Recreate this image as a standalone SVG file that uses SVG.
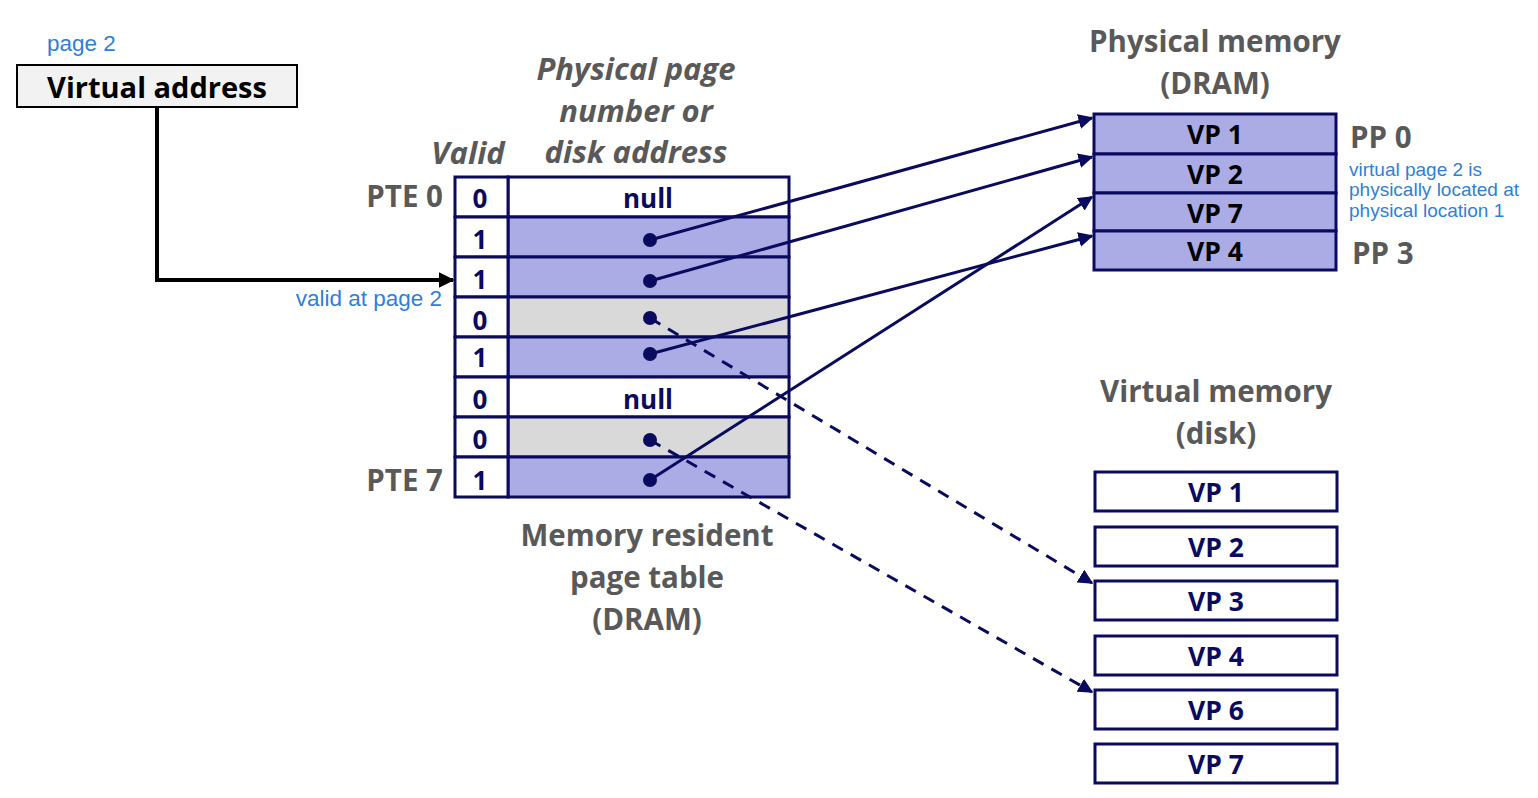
<svg xmlns="http://www.w3.org/2000/svg" width="1538" height="798" viewBox="0 0 1538 798">
  <defs>
    <style>
      text { font-family: "Open Sans", "Noto Sans", "Liberation Sans", sans-serif; font-weight: bold; }
      .lbl { fill: #595959; font-size: 29.5px; text-anchor: middle; }
      .ital { font-style: italic; font-size: 31px; }
      .start { text-anchor: start; }
      .end { text-anchor: end; }
      .note { fill: #2f7fd6; font-weight: normal; font-family: "Liberation Sans", Arial, sans-serif; font-size: 22.5px; }
      .small { font-size: 19px; }
      .cell { stroke: #0a0a5e; stroke-width: 3; }
      .val { fill: #0a0a5e; font-size: 26px; text-anchor: middle; }
      .pm { fill: #000; font-size: 26.5px; text-anchor: middle; }
      .dm { fill: #0a0a5e; font-size: 26.5px; text-anchor: middle; }
      .purple { fill: #abace5; }
      .gray { fill: #d9d9d9; }
      .white { fill: #ffffff; }
      .link { stroke: #0a0a5e; stroke-width: 3; fill: none; }
      .dash { stroke-dasharray: 12 9; }
      .dot { fill: #0a0a5e; }
    </style>
    <marker id="ahNavy" viewBox="0 0 10 10" refX="9" refY="5" markerWidth="5" markerHeight="5" orient="auto" markerUnits="strokeWidth">
      <path d="M0,0 L10,5 L0,10 z" fill="#0a0a5e"/>
    </marker>
    <marker id="ahBlack" viewBox="0 0 10 10" refX="9" refY="5" markerWidth="4" markerHeight="4" orient="auto" markerUnits="strokeWidth">
      <path d="M0,0 L10,5 L0,10 z" fill="#000"/>
    </marker>
  </defs>

  <!-- virtual address -->
  <g id="vaddr">
    <text class="note" x="47" y="51">page 2</text>
    <rect x="17" y="65" width="280" height="42" fill="#f2f2f2" stroke="#000" stroke-width="2"/>
    <text x="157" y="98" font-size="29" text-anchor="middle" fill="#000">Virtual address</text>
  </g>

  <!-- page table -->
  <g id="pagetable">
    <text class="lbl ital" x="468" y="164">Valid</text>
    <text class="lbl ital" x="636" y="80">Physical page</text>
    <text class="lbl ital" x="636" y="122">number or</text>
    <text class="lbl ital" x="636" y="163">disk address</text>
    <text class="lbl end" x="443" y="207">PTE 0</text>
    <text class="lbl end" x="443" y="491">PTE 7</text>

    <rect class="cell white" x="508" y="177" width="281" height="40"/>
    <rect class="cell purple" x="508" y="217" width="281" height="40"/>
    <rect class="cell purple" x="508" y="257" width="281" height="40"/>
    <rect class="cell gray" x="508" y="297" width="281" height="40"/>
    <rect class="cell purple" x="508" y="337" width="281" height="40"/>
    <rect class="cell white" x="508" y="377" width="281" height="40"/>
    <rect class="cell gray" x="508" y="417" width="281" height="40"/>
    <rect class="cell purple" x="508" y="457" width="281" height="40"/>

    <rect class="cell white" x="455" y="177" width="53" height="40"/>
    <rect class="cell white" x="455" y="217" width="53" height="40"/>
    <rect class="cell white" x="455" y="257" width="53" height="40"/>
    <rect class="cell white" x="455" y="297" width="53" height="40"/>
    <rect class="cell white" x="455" y="337" width="53" height="40"/>
    <rect class="cell white" x="455" y="377" width="53" height="40"/>
    <rect class="cell white" x="455" y="417" width="53" height="40"/>
    <rect class="cell white" x="455" y="457" width="53" height="40"/>

    <text class="val" x="480" y="208">0</text>
    <text class="val" x="480" y="249">1</text>
    <text class="val" x="480" y="289">1</text>
    <text class="val" x="480" y="330">0</text>
    <text class="val" x="480" y="367">1</text>
    <text class="val" x="480" y="409">0</text>
    <text class="val" x="480" y="449">0</text>
    <text class="val" x="480" y="490">1</text>

    <text class="val" x="648" y="208">null</text>
    <text class="val" x="648" y="409">null</text>

    <text class="lbl" x="647" y="546">Memory resident</text>
    <text class="lbl" x="647" y="588">page table</text>
    <text class="lbl" x="647" y="630">(DRAM)</text>
  </g>

  <!-- physical memory -->
  <g id="physmem">
    <text class="lbl" x="1215" y="52">Physical memory</text>
    <text class="lbl" x="1215" y="94">(DRAM)</text>
    <rect class="cell purple" x="1094" y="114" width="242" height="40"/>
    <rect class="cell purple" x="1094" y="154" width="242" height="39"/>
    <rect class="cell purple" x="1094" y="193" width="242" height="38"/>
    <rect class="cell purple" x="1094" y="231" width="242" height="39"/>
    <text class="pm" x="1215" y="144">VP 1</text>
    <text class="pm" x="1215" y="184">VP 2</text>
    <text class="pm" x="1215" y="223">VP 7</text>
    <text class="pm" x="1215" y="261">VP 4</text>
    <text class="lbl start" x="1350" y="148">PP 0</text>
    <text class="lbl start" x="1352" y="264">PP 3</text>
    <text class="note small" x="1349" y="176">virtual page 2 is</text>
    <text class="note small" x="1349" y="196">physically located at</text>
    <text class="note small" x="1349" y="217">physical location 1</text>
  </g>

  <!-- virtual memory on disk -->
  <g id="diskmem">
    <text class="lbl" x="1216" y="402">Virtual memory</text>
    <text class="lbl" x="1216" y="444">(disk)</text>
    <rect class="cell white" x="1095" y="472" width="242" height="39"/>
    <rect class="cell white" x="1095" y="527" width="242" height="39"/>
    <rect class="cell white" x="1095" y="581" width="242" height="39"/>
    <rect class="cell white" x="1095" y="636" width="242" height="39"/>
    <rect class="cell white" x="1095" y="690" width="242" height="39"/>
    <rect class="cell white" x="1095" y="744" width="242" height="39"/>
    <text class="dm" x="1216" y="502">VP 1</text>
    <text class="dm" x="1216" y="557">VP 2</text>
    <text class="dm" x="1216" y="611">VP 3</text>
    <text class="dm" x="1216" y="666">VP 4</text>
    <text class="dm" x="1216" y="720">VP 6</text>
    <text class="dm" x="1216" y="774">VP 7</text>
  </g>

  <!-- connectors -->
  <g id="connectors">
    <polyline points="157,107 157,280 453,280" fill="none" stroke="#000" stroke-width="4" marker-end="url(#ahBlack)"/>
    <text class="note end" x="442" y="306">valid at page 2</text>

    <line class="link" x1="650" y1="240" x2="1092" y2="118" marker-end="url(#ahNavy)"/>
    <line class="link" x1="650" y1="281" x2="1092" y2="157" marker-end="url(#ahNavy)"/>
    <line class="link" x1="650" y1="354" x2="1092" y2="236" marker-end="url(#ahNavy)"/>
    <line class="link" x1="650" y1="480" x2="1092" y2="197" marker-end="url(#ahNavy)"/>
    <line class="link dash" x1="650" y1="318" x2="1092" y2="583" marker-end="url(#ahNavy)"/>
    <line class="link dash" x1="650" y1="440" x2="1092" y2="692" marker-end="url(#ahNavy)"/>

    <circle class="dot" cx="650" cy="240" r="7"/>
    <circle class="dot" cx="650" cy="281" r="7"/>
    <circle class="dot" cx="650" cy="318" r="7"/>
    <circle class="dot" cx="650" cy="354" r="7"/>
    <circle class="dot" cx="650" cy="440" r="7"/>
    <circle class="dot" cx="650" cy="480" r="7"/>
  </g>
</svg>
